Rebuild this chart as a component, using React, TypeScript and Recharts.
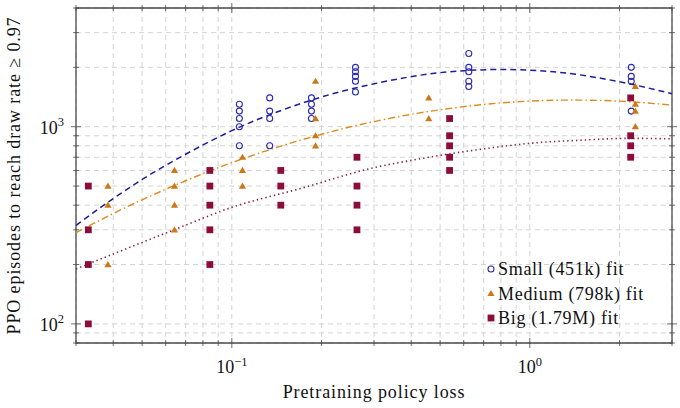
import React from 'react';
import {
  ComposedChart,
  Line,
  Scatter,
  XAxis,
  YAxis,
  CartesianGrid,
  Legend,
  ReferenceArea,
} from 'recharts';

// ---------- data (pretraining policy loss, PPO episodes) ----------
const smallPoints: [number, number][] = [
  [0.106, 1300], [0.106, 1200], [0.106, 1100], [0.106, 1000], [0.106, 800],
  [0.134, 1400], [0.134, 1200], [0.134, 1100], [0.134, 800],
  [0.185, 1400], [0.185, 1300], [0.185, 1200], [0.185, 1100],
  [0.26, 2000], [0.26, 1900], [0.26, 1800], [0.26, 1700], [0.26, 1500],
  [0.624, 2350], [0.624, 2000], [0.624, 1900], [0.624, 1700], [0.624, 1600],
  [2.19, 2000], [2.19, 1800], [2.19, 1700], [2.19, 1200],
];

const mediumPoints: [number, number][] = [
  [0.0384, 500], [0.0384, 400], [0.0384, 200],
  [0.0642, 600], [0.0642, 500], [0.0642, 400], [0.0642, 300],
  [0.1086, 700], [0.1086, 600], [0.1086, 500],
  [0.191, 1700], [0.191, 1100], [0.191, 900], [0.191, 800],
  [0.458, 1400], [0.458, 1100],
  [2.26, 1600], [2.26, 1300], [2.26, 1200], [2.26, 1000],
];

const bigPoints: [number, number][] = [
  [0.033, 500], [0.033, 300], [0.033, 200], [0.033, 100],
  [0.0844, 600], [0.0844, 500], [0.0844, 400], [0.0844, 300], [0.0844, 200],
  [0.146, 600], [0.146, 500], [0.146, 400],
  [0.263, 700], [0.263, 500], [0.263, 400], [0.263, 300],
  [0.538, 1100], [0.538, 900], [0.538, 800], [0.538, 700], [0.538, 600],
  [2.18, 1400], [2.18, 900], [2.18, 800], [2.18, 700],
];

// fit curves
const smallFitX = [0.03, 0.04, 0.05, 0.07, 0.1, 0.15, 0.2, 0.3, 0.5, 0.8, 1.2, 2, 3];
const smallFitY = [316, 432, 540, 725, 955, 1225, 1415, 1650, 1880, 1950, 1900, 1690, 1470];

const mediumFitX = [0.03, 0.04, 0.05, 0.07, 0.1, 0.15, 0.2, 0.3, 0.5, 0.8, 1.4, 2, 3];
const mediumFitY = [290, 363, 426, 532, 657, 807, 916, 1062, 1219, 1320, 1365, 1348, 1286];

const bigFitX = [0.03, 0.064, 0.1, 0.17, 0.3, 0.4, 0.54, 0.8, 1, 1.5, 2.16, 3];
const bigFitY = [190, 300, 390, 486, 620, 675, 729, 793, 824, 855, 873, 868];

// axes
const xDomain: [number, number] = [0.03, 3];
const yDomain: [number, number] = [80, 4000];
const xTicks = [0.03, 0.04, 0.05, 0.06, 0.07, 0.08, 0.09, 0.1, 0.2, 0.3, 0.4, 0.5, 0.6, 0.7, 0.8, 0.9, 1, 2, 3];
const xMajor = [0.1, 1];
const xMajorLabels = [['10', '−1'], ['10', '0']];
const yTicks = [80, 90, 100, 200, 300, 400, 500, 600, 700, 800, 900, 1000, 2000, 3000, 4000];
const yMajor = [100, 1000];
const yMajorLabels = [['10', '2'], ['10', '3']];

const seriesNames = ['Small (451k) fit', 'Medium (798k) fit', 'Big (1.79M) fit'];
const xTitle = 'Pretraining policy loss';
const yTitle = 'PPO episodes to reach draw rate ≥ 0.97';

// ---------- styles ----------
const W = 680;
const H = 408;
const M = { top: 8, right: 8, left: 0, bottom: 0 };
const Y_AXIS_W = 76;
const X_AXIS_H = 65;
const PLOT_LEFT = M.left + Y_AXIS_W;
const PLOT_RIGHT = W - M.right;
const PLOT_TOP = M.top;
const PLOT_BOTTOM = H - M.bottom - X_AXIS_H;

const FONT = 'Liberation Serif';
const AXIS_COLOR = '#4a4a4a';
const GRID_COLOR = '#d4d4d4';
const BLUE = '#2a2ab0';
const BLUE_LINE = '#1c1c9c';
const ORANGE = '#cc7818';
const ORANGE_LINE = '#de8a1e';
const MAROON = '#8c0d3a';
const MAROON_LINE = '#8e2246';

const toObjs = (pts: [number, number][]) => pts.map(([x, y]) => ({ x, y }));
const zipObjs = (xs: number[], ys: number[]) => xs.map((x, i) => ({ x, y: ys[i] }));

const smallData = toObjs(smallPoints);
const mediumData = toObjs(mediumPoints);
const bigData = toObjs(bigPoints);
const smallFit = zipObjs(smallFitX, smallFitY);
const mediumFit = zipObjs(mediumFitX, mediumFitY);
const bigFit = zipObjs(bigFitX, bigFitY);

// ---------- markers ----------
const CircleMark = ({ cx, cy }: any) => (
  <circle cx={cx} cy={cy} r={3} fill="none" stroke={BLUE} strokeWidth={1.1} />
);
const TriMark = ({ cx, cy }: any) => (
  <polygon
    points={`${cx},${cy - 3.6} ${cx - 3.6},${cy + 2.6} ${cx + 3.6},${cy + 2.6}`}
    fill={ORANGE}
  />
);
const SquareMark = ({ cx, cy }: any) => (
  <rect x={cx - 3.4} y={cy - 3.4} width={6.8} height={6.8} fill={MAROON} />
);

// ---------- ticks ----------
const XTick = (props: any) => {
  const { x, payload } = props;
  const v = payload.value;
  const idx = xMajor.indexOf(v);
  const len = idx >= 0 ? 5 : 3;
  return (
    <g>
      <line x1={x} x2={x} y1={PLOT_BOTTOM - len} y2={PLOT_BOTTOM + len} stroke={AXIS_COLOR} strokeWidth={0.8} />
      <line x1={x} x2={x} y1={PLOT_TOP - len} y2={PLOT_TOP + len} stroke={AXIS_COLOR} strokeWidth={0.8} />
      {idx >= 0 && (
        <text x={x} y={PLOT_BOTTOM + 30} textAnchor="middle" style={{ fontFamily: FONT }} fontSize={18} fill="#111">
          <tspan>{xMajorLabels[idx][0]}</tspan>
          <tspan dy={-7} fontSize={12.5}>{xMajorLabels[idx][1]}</tspan>
        </text>
      )}
    </g>
  );
};

const YTick = (props: any) => {
  const { y, payload } = props;
  const v = payload.value;
  const idx = yMajor.indexOf(v);
  const len = idx >= 0 ? 5 : 3;
  return (
    <g>
      <line x1={PLOT_LEFT - len} x2={PLOT_LEFT + len} y1={y} y2={y} stroke={AXIS_COLOR} strokeWidth={0.8} />
      <line x1={PLOT_RIGHT - len} x2={PLOT_RIGHT + len} y1={y} y2={y} stroke={AXIS_COLOR} strokeWidth={0.8} />
      {idx >= 0 && (
        <text x={PLOT_LEFT - 12} y={y + 7} textAnchor="end" style={{ fontFamily: FONT }} fontSize={18} fill="#111">
          <tspan>{yMajorLabels[idx][0]}</tspan>
          <tspan dy={-8} fontSize={12.5}>{yMajorLabels[idx][1]}</tspan>
        </text>
      )}
    </g>
  );
};

// ---------- legend ----------
const LegendBox = () => {
  const rowH = 24.5;
  const marks = [
    (cx: number, cy: number) => <CircleMark cx={cx} cy={cy} />,
    (cx: number, cy: number) => <TriMark cx={cx} cy={cy} />,
    (cx: number, cy: number) => <SquareMark cx={cx} cy={cy} />,
  ];
  return (
    <svg width={190} height={80} style={{ display: 'block' }}>
      {seriesNames.map((name, i) => (
        <g key={name}>
          {marks[i](7, 12 + i * rowH)}
          <text
            x={14}
            y={12 + i * rowH + 6}
            style={{ fontFamily: FONT }}
            fontSize={18}
            letterSpacing={0.7}
            fill="#111"
          >
            {name}
          </text>
        </g>
      ))}
    </svg>
  );
};

export default function App() {
  return (
    <div style={{ position: 'fixed', left: 0, top: 0, width: W, height: H, background: '#fff' }}>
      <ComposedChart width={W} height={H} margin={M}>
        <CartesianGrid stroke={GRID_COLOR} strokeDasharray="5 4" strokeWidth={1} />
        <XAxis
          dataKey="x"
          type="number"
          scale="log"
          domain={xDomain}
          allowDataOverflow
          ticks={xTicks}
          interval={0}
          height={X_AXIS_H}
          tickSize={0}
          tickLine={false}
          axisLine={false}
          tick={(p: any) => <XTick {...p} />}
          label={{
            content: () => (
              <text
                x={(PLOT_LEFT + PLOT_RIGHT) / 2}
                y={PLOT_BOTTOM + 55}
                textAnchor="middle"
                style={{ fontFamily: FONT }}
                fontSize={18}
                letterSpacing={0.9}
                fill="#111"
              >
                {xTitle}
              </text>
            ),
          }}
        />
        <YAxis
          dataKey="y"
          type="number"
          scale="log"
          domain={yDomain}
          allowDataOverflow
          ticks={yTicks}
          interval={0}
          width={Y_AXIS_W}
          tickSize={0}
          tickLine={false}
          axisLine={false}
          tick={(p: any) => <YTick {...p} />}
          label={{
            content: () => (
              <text
                x={20}
                y={(PLOT_TOP + PLOT_BOTTOM) / 2}
                transform={`rotate(-90 20 ${(PLOT_TOP + PLOT_BOTTOM) / 2})`}
                textAnchor="middle"
                style={{ fontFamily: FONT }}
                fontSize={18}
                letterSpacing={0.9}
                fill="#111"
              >
                {yTitle}
              </text>
            ),
          }}
        />
        <Line
          data={smallFit}
          dataKey="y"
          type="monotone"
          stroke={BLUE_LINE}
          strokeWidth={1.5}
          strokeDasharray="6 4"
          dot={false}
          activeDot={false}
          isAnimationActive={false}
          legendType="none"
        />
        <Line
          data={mediumFit}
          dataKey="y"
          type="monotone"
          stroke={ORANGE_LINE}
          strokeWidth={1.4}
          strokeDasharray="7 3 1.5 3"
          dot={false}
          activeDot={false}
          isAnimationActive={false}
          legendType="none"
        />
        <Line
          data={bigFit}
          dataKey="y"
          type="monotone"
          stroke={MAROON_LINE}
          strokeWidth={1.6}
          strokeDasharray="1.4 3"
          dot={false}
          activeDot={false}
          isAnimationActive={false}
          legendType="none"
        />
        <Scatter data={smallData} shape={(p: any) => <CircleMark {...p} />} isAnimationActive={false} />
        <Scatter data={mediumData} shape={(p: any) => <TriMark {...p} />} isAnimationActive={false} />
        <Scatter data={bigData} shape={(p: any) => <SquareMark {...p} />} isAnimationActive={false} />
        <ReferenceArea
          x1={xDomain[0]}
          x2={xDomain[1]}
          y1={yDomain[0]}
          y2={yDomain[1]}
          fill="none"
          fillOpacity={0}
          stroke={AXIS_COLOR}
          strokeWidth={1.3}
          ifOverflow="visible"
        />
        <Legend
          layout="vertical"
          align="center"
          verticalAlign="middle"
          content={() => <LegendBox />}
          wrapperStyle={{ position: 'absolute', left: 484, top: 257, width: 190, height: 80 }}
        />
      </ComposedChart>
    </div>
  );
}
